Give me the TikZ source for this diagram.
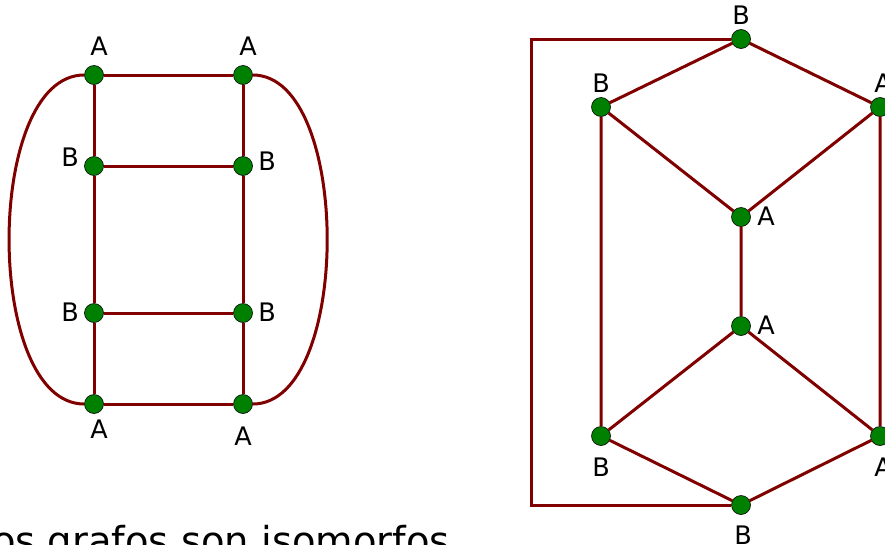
\documentclass[tikz,border=0pt]{standalone}
\usepackage{fontspec}
\setmainfont{DejaVu Sans}
\definecolor{edgered}{RGB}{128,0,0}
\definecolor{vgreen}{RGB}{0,128,0}
\begin{document}
\begin{tikzpicture}[x=1pt,y=-1pt,
  vert/.style={circle,fill=vgreen,draw=black,line width=0.6pt,minimum size=19pt,inner sep=0pt},
  edge/.style={draw=edgered,line width=3pt},
  lab/.style={font=\fontsize{25.5}{25.5}\selectfont,inner sep=0pt},
  title/.style={font=\fontsize{38.5}{38.5}\selectfont,inner sep=0pt}]
\useasboundingbox (0,0) rectangle (885,544);
\clip (0,0) rectangle (885,544);
% left graph vertices
\node[vert] (a1) at (94,75) {};
\node[vert] (a2) at (243,75) {};
\node[vert] (b1) at (94,166) {};
\node[vert] (b2) at (243,166) {};
\node[vert] (b3) at (94,313) {};
\node[vert] (b4) at (243,313) {};
\node[vert] (a3) at (94,404) {};
\node[vert] (a4) at (243,404) {};
% right graph vertices
\node[vert] (n1) at (741,39) {};
\node[vert] (n2) at (601,107) {};
\node[vert] (n3) at (880,107) {};
\node[vert] (n4) at (741,217) {};
\node[vert] (n5) at (741,326) {};
\node[vert] (n6) at (601,436) {};
\node[vert] (n7) at (880,436) {};
\node[vert] (n8) at (741,505) {};
\coordinate (c1) at (531,39);
\coordinate (c2) at (531,505);
% edges
\path[edge] (a1) -- (a2) (b1) -- (b2) (b3) -- (b4) (a3) -- (a4)
  (a1) -- (b1) -- (b3) -- (a3) (a2) -- (b2) -- (b4) -- (a4);
\path[edge] (a1) .. controls (-16,75) and (-16,404) .. (a3);
\path[edge] (a2) .. controls (352,75) and (352,404) .. (a4);
\path[edge] (n1) -- (n2) (n1) -- (n3) (n2) -- (n4) (n3) -- (n4) (n4) -- (n5)
  (n5) -- (n6) (n5) -- (n7) (n6) -- (n8) (n7) -- (n8) (n2) -- (n6) (n3) -- (n7);
\path[edge] (n1) -- (c1) -- (c2) -- (n8);
% labels
\node[lab] (la1) at (99,46) {A};
\node[lab] (la2) at (248,46) {A};
\node[lab] (lb1) at (70,157) {B};
\node[lab] (lb2) at (267,161) {B};
\node[lab] (lb3) at (70,312) {B};
\node[lab] (lb4) at (267,312) {B};
\node[lab] (la3) at (99,429) {A};
\node[lab] (la4) at (243,436) {A};
\node[lab] (ln1) at (741,15) {B};
\node[lab] (ln2) at (601,83) {B};
\node[lab] (ln3) at (883,83) {A};
\node[lab] (ln4) at (766,216) {A};
\node[lab] (ln5) at (766,325) {A};
\node[lab] (ln6) at (601,467) {B};
\node[lab] (ln7) at (883,467) {A};
\node[lab] (ln8) at (743,535) {B};
\node[title,anchor=base east] (t) at (450,554) {Los grafos son isomorfos};
\end{tikzpicture}
\end{document}
